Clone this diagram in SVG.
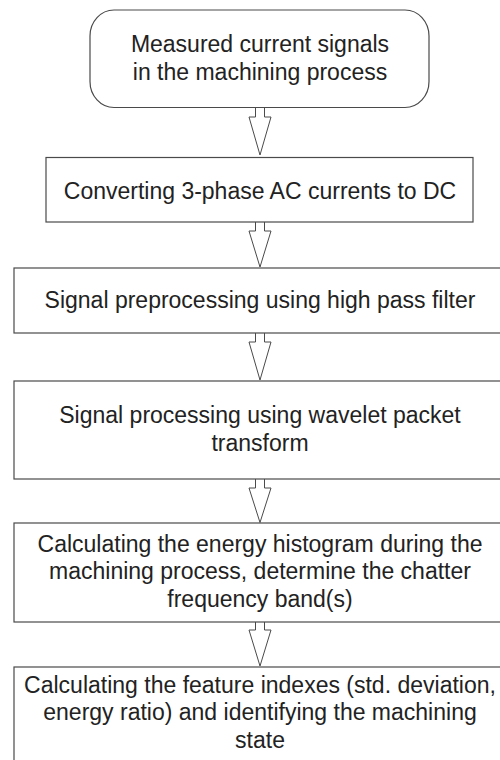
<svg xmlns="http://www.w3.org/2000/svg" width="500" height="760" viewBox="0 0 500 760">
<style>
.box{fill:#fff;stroke:#4a4a4a;stroke-width:1.2}
.arr{fill:#fff;stroke:#4a4a4a;stroke-width:1}
text{font-family:"Liberation Sans",Arial,sans-serif;font-size:23px;fill:#222;text-anchor:middle}
</style>
<rect width="500" height="760" fill="#fff"/>
<g id="connectors">
<path class="arr" d="M255.5,108 V117 H249 L260,155 L271,117 H264.5 V108"/>
<path class="arr" d="M255.5,222 V231 H249 L260,267 L271,231 H264.5 V222"/>
<path class="arr" d="M255.5,333 V342 H249 L260,380 L271,342 H264.5 V333"/>
<path class="arr" d="M255.5,479 V488 H249 L260,522.5 L271,488 H264.5 V479"/>
<path class="arr" d="M255.5,622 V630 H249 L260,666 L271,630 H264.5 V622"/>
</g>
<g id="n1">
<rect class="box" x="90" y="10" width="339" height="97.5" rx="24" ry="26"/>
<text x="260" y="52">Measured current signals</text>
<text x="260" y="80">in the machining process</text>
</g>
<g id="n2">
<rect class="box" x="46" y="157.5" width="427" height="64.5"/>
<text x="260" y="199">Converting 3-phase AC currents to DC</text>
</g>
<g id="n3">
<rect class="box" x="14" y="268" width="492" height="65"/>
<text x="260" y="308">Signal preprocessing using high pass filter</text>
</g>
<g id="n4">
<rect class="box" x="14" y="381" width="492" height="98"/>
<text x="260" y="423">Signal processing using wavelet packet</text>
<text x="260" y="451">transform</text>
</g>
<g id="n5">
<rect class="box" x="14" y="523" width="492" height="99"/>
<text x="260" y="552">Calculating the energy histogram during the</text>
<text x="260" y="579">machining process, determine the chatter</text>
<text x="260" y="607">frequency band(s)</text>
</g>
<g id="n6">
<rect class="box" x="14" y="667" width="492" height="110"/>
<text x="260" y="693">Calculating the feature indexes (std. deviation,</text>
<text x="260" y="720">energy ratio) and identifying the machining</text>
<text x="260" y="748">state</text>
</g>
</svg>
